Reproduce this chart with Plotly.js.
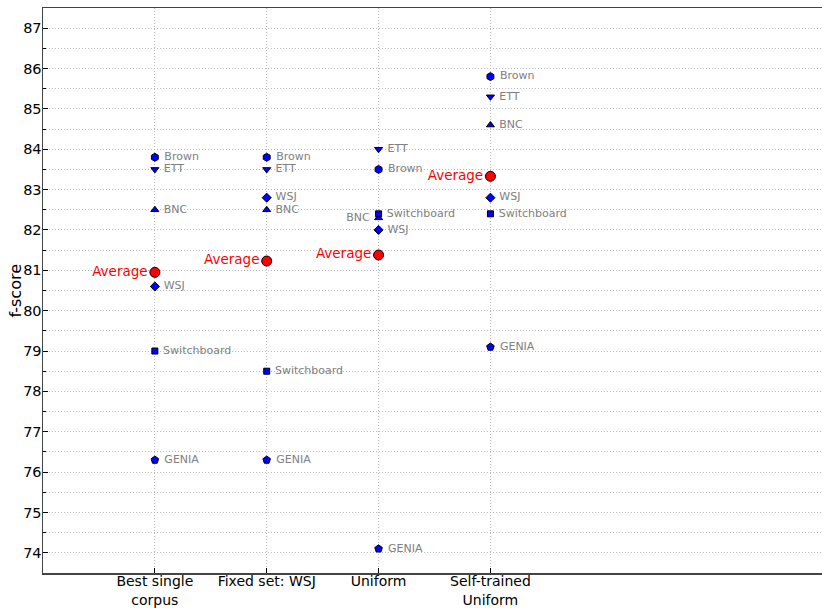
<!DOCTYPE html>
<html>
<head>
<meta charset="utf-8">
<script src="https://cdn.plot.ly/plotly-3.0.1.min.js"></script>
<style>html,body{margin:0;padding:0;background:#fff;overflow:hidden}#wrap{width:822px;height:608px;overflow:hidden}#chart{width:826px;height:608px}</style>
</head>
<body>
<div id="wrap"><div id="chart"></div></div>
<script>
const categories = ["Best single<br>corpus", "Fixed set: WSJ", "Uniform", "Self-trained<br>Uniform"];
const catPos = [1, 2, 3, 4];
const brown = [83.8, 83.8, 83.5, 85.8];
const ett = [83.5, 83.5, 84.0, 85.3];
const bnc = [82.5, 82.5, 82.3, 84.6];
const wsj = [80.6, 82.8, 82.0, 82.8];
const switchboard = [79.0, 78.5, 82.4, 82.4];
const genia = [76.3, 76.3, 74.1, 79.1];
const average = [80.95, 81.23, 81.38, 83.33];

const R = "middle right", L = "middle left";
const series = [
  {name: "Brown", y: brown, symbol: "hexagon", size: 8, pos: [R, R, R, R]},
  {name: "ETT", y: ett, symbol: "triangle-down", size: 7, pos: [R, R, R, R]},
  {name: "BNC", y: bnc, symbol: "triangle-up", size: 7, pos: [R, R, L, R]},
  {name: "WSJ", y: wsj, symbol: "diamond", size: 7, pos: [R, R, R, R]},
  {name: "Switchboard", y: switchboard, symbol: "square", size: 6, pos: [R, R, R, R]},
  {name: "GENIA", y: genia, symbol: "pentagon", size: 8, pos: [R, R, R, R]}
];

const traces = series.map(s => ({
  type: "scatter", mode: "markers+text", x: catPos, y: s.y,
  text: catPos.map((_, i) => s.pos[i] === R ? " " + s.name : s.name + " "), textposition: s.pos,
  textfont: {family: "DejaVu Sans", size: 11, color: "#808080"},
  marker: {symbol: s.symbol, size: s.size, color: "#0000ff", line: {color: "#000", width: 1}},
  cliponaxis: false, showlegend: false, hoverinfo: "skip"
}));
traces.push({
  type: "scatter", mode: "markers+text", x: catPos, y: average,
  text: catPos.map(() => "Average"), textposition: "middle left",
  textfont: {family: "DejaVu Sans", size: 13.5, color: "#ff0000"},
  marker: {symbol: "circle", size: 10, color: "#ff0000", line: {color: "#000", width: 1}},
  cliponaxis: false, showlegend: false, hoverinfo: "skip"
});

const gridCol = "#b8b8b8";
const layout = {
  width: 826, height: 608,
  margin: {l: 43, r: 0, t: 8, b: 35},
  paper_bgcolor: "#fff", plot_bgcolor: "#fff",
  font: {family: "DejaVu Sans", size: 14, color: "#000"},
  xaxis: {
    range: [0, 7], tickvals: catPos, ticktext: categories,
    showgrid: true, gridcolor: gridCol, griddash: "1px,2px", gridwidth: 1,
    ticks: "inside", ticklen: 5, tickcolor: "#000",
    showline: true, mirror: true, linecolor: "#444", linewidth: 1.5,
    zeroline: false, tickfont: {size: 14}, ticklabelstandoff: -5
  },
  yaxis: {
    range: [73.5, 87.5], dtick: 1, tick0: 74,
    showgrid: true, gridcolor: gridCol, griddash: "1px,2px", gridwidth: 1,
    ticks: "inside", ticklen: 5, tickcolor: "#000",
    minor: {dtick: 0.5, tick0: 74, showgrid: true, gridcolor: gridCol, griddash: "1px,2px", ticks: "inside", ticklen: 3, tickcolor: "#000"},
    showline: true, mirror: true, linecolor: "#444", linewidth: 1.5,
    zeroline: false, tickfont: {size: 14.5}, ticklabelstandoff: -3
  },
  annotations: [{
    text: "f-score", xref: "paper", yref: "paper", x: 0, y: 0.5,
    xanchor: "center", yanchor: "middle", xshift: -28, textangle: -90,
    showarrow: false, font: {family: "DejaVu Sans", size: 16, color: "#000"}
  }]
};
Plotly.newPlot("chart", traces, layout, {staticPlot: true});
</script>
</body>
</html>
